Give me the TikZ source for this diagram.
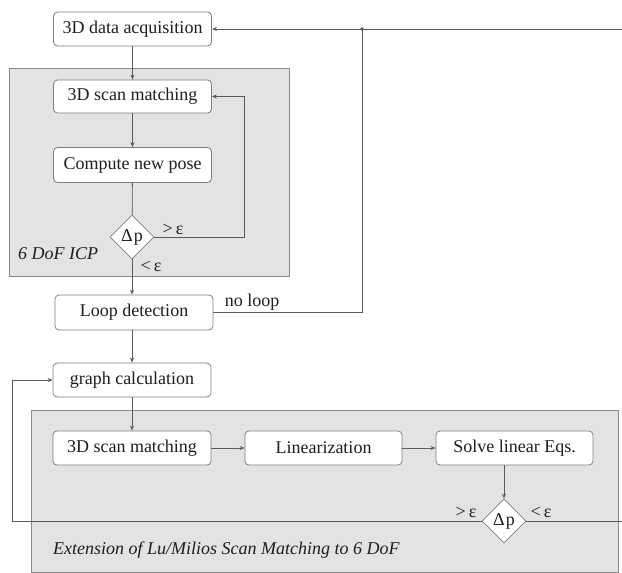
\documentclass[tikz,border=0pt]{standalone}
\usepackage{fontspec}
\setmainfont{Liberation Serif}
\usetikzlibrary{positioning,arrows.meta,shapes.geometric}
\definecolor{ink}{HTML}{1E1E1E}
\definecolor{ln}{HTML}{5A5A5A}
\definecolor{bx}{HTML}{7E7E7E}
\definecolor{pan}{HTML}{E3E3E3}
\definecolor{panb}{HTML}{8A8A8A}
\newcommand{\figfont}{\fontsize{18}{21}\selectfont}

\begin{document}
\begin{tikzpicture}[x=1pt, y=-1pt,
  box/.style={draw=bx, fill=white, line width=0.8pt, rounded corners=4pt, minimum width=158pt, minimum height=34pt, inner sep=0pt, text=ink, font=\figfont},
  dec/.style={diamond, draw=bx, fill=white, line width=0.8pt, minimum width=44pt, minimum height=44pt, inner sep=0pt, text=ink, font=\figfont},
  panel/.style={draw=panb, fill=pan, line width=0.8pt},
  arr/.style={-{Stealth[length=5pt, width=4pt]}, line width=0.8pt, draw=ln},
  lin/.style={line width=0.8pt, draw=ln},
  lab/.style={text=ink, font=\figfont, inner sep=1pt}]
\useasboundingbox (0,0) rectangle (622,573);
% ---------------- panels
\draw[panel] (9,68) rectangle (289,276);
\draw[panel] (31,410) rectangle (618,572);
\node[lab, anchor=west, font=\figfont\itshape] (icplab) at (17,254) {6 DoF ICP};
\node[lab, anchor=west, font=\figfont\itshape] (extlab) at (52,550) {Extension of Lu/Milios Scan Matching to 6 DoF};
% ---------------- left column
\node[box] (acq) at (132.5,29) {3D data acquisition};
\node[box, minimum height=33pt] (scan1) at (132.5,96.5) {3D scan matching};
\node[box, minimum height=35pt] (pose) at (132.5,165) {Compute new pose};
\node[dec] (dp1) at (132,237) {Δ\kern1pt p};
\node[box, minimum height=35pt] (loop) at (134,312.5) {Loop detection};
\node[box] (graph) at (132,380) {graph calculation};
% ---------------- bottom row
\node[box] (scan2) at (132,448) {3D scan matching};
\node[box, minimum width=157pt] (lin) at (323.5,448) {Linearization};
\node[box, minimum width=157pt] (solve) at (514.5,448) {Solve linear Eqs.};
\node[dec] (dp2) at (504,521) {Δ\kern1pt p};
% ---------------- helper points
\coordinate (fb1) at (244,96.5);
\coordinate (jn) at (362,29);
\coordinate (rin) at (622,29);
\coordinate (fb2) at (12,380);
\coordinate (rout) at (622,521);
% ---------------- connectors
\draw[arr] (acq) -- (scan1); \draw[arr] (scan1) -- (pose); \draw[lin] (pose) -- (dp1);
\draw[arr] (dp1.east) -| (fb1) -- (scan1.east);
\draw[arr] (dp1) -- (dp1 |- loop.north);
\draw[lin] (loop.east) -| (jn);
\draw[arr] (rin) -- (acq.east);
\fill[ln] (jn) circle (1.8pt);
\draw[arr] (loop.south -| graph) -- (graph); \draw[arr] (graph) -- (scan2);
\draw[arr] (scan2) -- (lin); \draw[arr] (lin) -- (solve);
\draw[arr] (dp2 |- solve.south) -- (dp2);
\draw[arr] (dp2.west) -| (fb2) -- (graph.west);
\draw[lin] (dp2.east) -- (rout);
% ---------------- labels
\node[lab] (gt1) at (173,229) {>\,ε};
\node[lab] (lt1) at (151,266) {<\,ε};
\node[lab] (noloop) at (252,302) {no loop};
\node[lab] (gt2) at (466,512) {>\,ε};
\node[lab] (lt2) at (541,512) {<\,ε};
\end{tikzpicture}
\end{document}
